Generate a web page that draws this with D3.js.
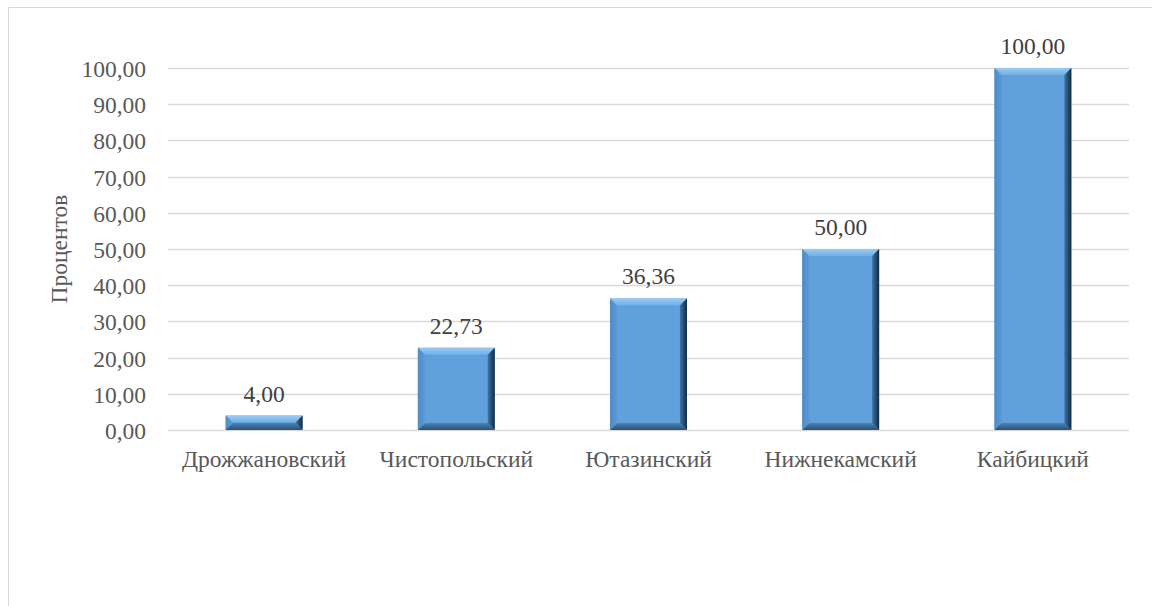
<!DOCTYPE html>
<html><head><meta charset="utf-8">
<script src="https://cdn.jsdelivr.net/npm/d3@7"></script>
</head><body style="margin:0">
<svg id="c" width="1152" height="606"></svg>
<script>
const categories = ["Дрожжановский","Чистопольский","Ютазинский","Нижнекамский","Кайбицкий"];
const values = [4.00, 22.73, 36.36, 50.00, 100.00];
const yTicks = [0,10,20,30,40,50,60,70,80,90,100];
const yTitle = "Процентов";

const FONT = "Liberation Serif";
const FS = 23.5;
const svg = d3.select("#c");
const W = 1152, H = 606;
const m = {left:168, right:1129, top:68, bottom:430};
const fmt = v => v.toFixed(2).replace(".", ",");

// outer border (left + top)
svg.append("path").attr("d", `M8.5,${H} L8.5,7.5 L${W},7.5`).attr("fill","none").attr("stroke","#d9d9d9").attr("stroke-width",1);

const x = d3.scaleBand().domain(categories).range([m.left, m.right]).paddingInner(0.6).paddingOuter(0.3);
const y = d3.scaleLinear().domain([0,100]).range([m.bottom, m.top]);

// gridlines
svg.append("g").selectAll("line").data(yTicks).join("line")
  .attr("x1", m.left).attr("x2", m.right)
  .attr("y1", d => Math.round(y(d))+0.5).attr("y2", d => Math.round(y(d))+0.5)
  .attr("stroke","#d9d9d9").attr("stroke-width",1.3);

// y axis labels
const yAxis = d3.axisLeft(y).tickValues(yTicks).tickFormat(fmt).tickSize(0).tickPadding(0);
const ya = svg.append("g").attr("transform", `translate(146,0)`).call(yAxis);
ya.attr("font-family", FONT).attr("font-size", FS);
ya.select(".domain").remove();
ya.selectAll("text").attr("fill","#595959").attr("dy",null).attr("y",8.5)
  .attr("font-family",FONT).attr("font-size",FS);

// x axis labels
const xAxis = d3.axisBottom(x).tickSize(0).tickPadding(0);
const xa = svg.append("g").attr("transform", `translate(0,${m.bottom})`).call(xAxis);
xa.attr("font-family", FONT).attr("font-size", FS);
xa.select(".domain").remove();
xa.selectAll("text").attr("fill","#595959").attr("dy",null).attr("y",37)
  .attr("font-family",FONT).attr("font-size",FS);

// y title
svg.append("text").attr("transform", `translate(67,${(m.top+m.bottom)/2}) rotate(-90)`)
  .attr("text-anchor","middle").attr("fill","#595959")
  .attr("font-family",FONT).attr("font-size",FS).text(yTitle);

// gradients
const defs = svg.append("defs");
function lg(id, x1,y1,x2,y2, stops){
  const g = defs.append("linearGradient").attr("id",id).attr("x1",x1).attr("y1",y1).attr("x2",x2).attr("y2",y2);
  stops.forEach(s => g.append("stop").attr("offset",s[0]).attr("stop-color",s[1]));
}
lg("gTop","0","0","0","1",[[0,"#9ccbf2"],[1,"#6fb0e8"]]);
lg("gRight","0","0","1","0",[[0,"#3e75a8"],[1,"#13283e"]]);
lg("gBot","0","0","0","1",[[0,"#4a83b8"],[1,"#2c4f73"]]);
lg("gLeft","0","0","1","0",[[0,"#4f8cc6"],[1,"#5b9ad6"]]);

const b = 7;
const bars = svg.append("g").selectAll("g").data(categories.map((c,i)=>({c, v:values[i]}))).join("g");
bars.each(function(d){
  const g = d3.select(this);
  const x0 = x(d.c), x1 = x(d.c)+x.bandwidth();
  const y0 = y(d.v), y1 = y(0);
  const bb = Math.min(b, (y1-y0)/2);
  g.append("rect").attr("x",x0).attr("y",y0).attr("width",x1-x0).attr("height",y1-y0).attr("fill","#5fa0dd");
  g.append("path").attr("d",`M${x0},${y0}L${x1},${y0}L${x1-bb},${y0+bb}L${x0+bb},${y0+bb}Z`).attr("fill","url(#gTop)");
  g.append("path").attr("d",`M${x1},${y0}L${x1},${y1}L${x1-bb},${y1-bb}L${x1-bb},${y0+bb}Z`).attr("fill","url(#gRight)");
  g.append("path").attr("d",`M${x0},${y1}L${x1},${y1}L${x1-bb},${y1-bb}L${x0+bb},${y1-bb}Z`).attr("fill","url(#gBot)");
  g.append("path").attr("d",`M${x0},${y0}L${x0+bb},${y0+bb}L${x0+bb},${y1-bb}L${x0},${y1}Z`).attr("fill","url(#gLeft)");
  g.append("text").attr("x",(x0+x1)/2).attr("y",y0-14).attr("text-anchor","middle")
   .attr("fill","#404040").attr("font-family",FONT).attr("font-size",FS).text(fmt(d.v));
});
</script>
</body></html>
